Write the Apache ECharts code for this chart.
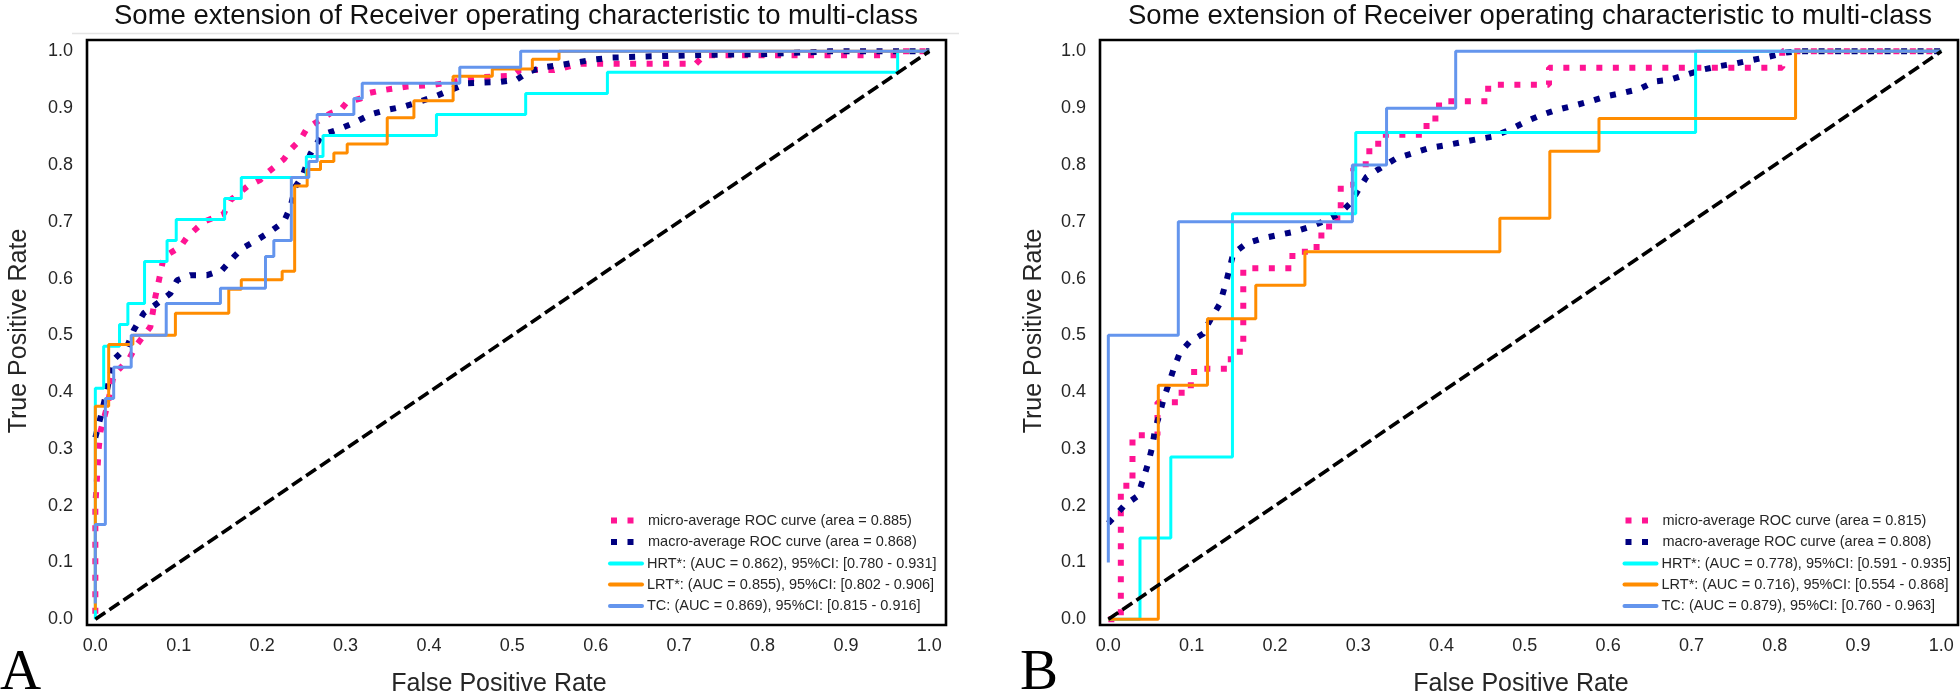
<!DOCTYPE html>
<html><head><meta charset="utf-8">
<script src="https://cdn.jsdelivr.net/npm/echarts@6/dist/echarts.min.js"></script>
<style>html,body{margin:0;padding:0;background:#fff}#c{width:1960px;height:696px}</style>
</head><body><div id="c"></div>
<script>
// ---------- shared ----------
const tickValues = [0, 0.1, 0.2, 0.3, 0.4, 0.5, 0.6, 0.7, 0.8, 0.9, 1.0];
const chartTitle = 'Some extension of Receiver operating characteristic to multi-class';
const xTitle = 'False Positive Rate';
const yTitle = 'True Positive Rate';
const panelLetters = ['A', 'B'];
const chanceFpr = [0, 1];
const chanceTpr = [0, 1];

// ---------- panel A ----------
const A_names = [
  'micro-average ROC curve (area = 0.885)',
  'macro-average ROC curve (area = 0.868)',
  'HRT*: (AUC = 0.862), 95%CI: [0.780 - 0.931]',
  'LRT*: (AUC = 0.855), 95%CI: [0.802 - 0.906]',
  'TC: (AUC = 0.869), 95%CI: [0.815 - 0.916]'
];
const A_micro_fpr = [0, 0, 0.004, 0.006, 0.014, 0.022, 0.041, 0.049, 0.066, 0.072, 0.078, 0.082, 0.102, 0.110, 0.130, 0.154, 0.162, 0.182, 0.198, 0.206, 0.226, 0.234, 0.246, 0.254, 0.270, 0.282, 0.294, 0.302, 0.318, 0.326, 0.346, 0.374, 0.406, 0.426, 0.466, 0.500, 0.509, 0.550, 0.580, 0.720, 0.730, 0.960, 0.960, 1.0];
const A_micro_tpr = [0.010, 0.200, 0.300, 0.330, 0.374, 0.430, 0.460, 0.482, 0.515, 0.568, 0.609, 0.638, 0.656, 0.673, 0.700, 0.714, 0.738, 0.762, 0.774, 0.786, 0.810, 0.827, 0.845, 0.865, 0.880, 0.891, 0.897, 0.911, 0.917, 0.926, 0.932, 0.938, 0.941, 0.946, 0.955, 0.957, 0.967, 0.967, 0.978, 0.978, 0.993, 0.993, 1.0, 1.0];
const A_macro_fpr = [0, 0.007, 0.014, 0.022, 0.038, 0.046, 0.058, 0.074, 0.090, 0.098, 0.114, 0.134, 0.152, 0.166, 0.176, 0.194, 0.210, 0.226, 0.234, 0.240, 0.248, 0.258, 0.272, 0.290, 0.310, 0.330, 0.350, 0.370, 0.390, 0.408, 0.426, 0.446, 0.463, 0.484, 0.505, 0.521, 0.538, 0.558, 0.579, 0.600, 0.620, 0.661, 0.740, 0.800, 0.880, 1.0];
const A_macro_tpr = [0.320, 0.360, 0.404, 0.457, 0.480, 0.509, 0.539, 0.556, 0.574, 0.597, 0.606, 0.606, 0.615, 0.638, 0.653, 0.668, 0.683, 0.700, 0.726, 0.762, 0.779, 0.820, 0.853, 0.862, 0.874, 0.889, 0.897, 0.903, 0.912, 0.921, 0.932, 0.944, 0.945, 0.946, 0.950, 0.965, 0.972, 0.976, 0.981, 0.986, 0.989, 0.991, 0.994, 0.995, 1.0, 1.0];
const A_hrt_fpr = [0, 0, 0.010, 0.010, 0.029, 0.029, 0.039, 0.039, 0.059, 0.059, 0.086, 0.086, 0.097, 0.097, 0.155, 0.155, 0.175, 0.175, 0.253, 0.253, 0.273, 0.273, 0.409, 0.409, 0.516, 0.516, 0.614, 0.614, 0.962, 0.962, 1.0];
const A_hrt_tpr = [0, 0.407, 0.407, 0.481, 0.481, 0.519, 0.519, 0.556, 0.556, 0.630, 0.630, 0.667, 0.667, 0.704, 0.704, 0.741, 0.741, 0.778, 0.778, 0.815, 0.815, 0.852, 0.852, 0.889, 0.889, 0.926, 0.926, 0.963, 0.963, 1.0, 1.0];
const A_lrt_fpr = [0, 0, 0.016, 0.016, 0.045, 0.045, 0.096, 0.096, 0.160, 0.160, 0.175, 0.175, 0.224, 0.224, 0.239, 0.239, 0.254, 0.254, 0.270, 0.270, 0.286, 0.286, 0.302, 0.302, 0.350, 0.350, 0.382, 0.382, 0.429, 0.429, 0.476, 0.476, 0.524, 0.524, 0.556, 0.556, 1.0];
const A_lrt_tpr = [0.016, 0.375, 0.375, 0.484, 0.484, 0.500, 0.500, 0.539, 0.539, 0.581, 0.581, 0.598, 0.598, 0.613, 0.613, 0.763, 0.763, 0.792, 0.792, 0.806, 0.806, 0.821, 0.821, 0.837, 0.837, 0.883, 0.883, 0.913, 0.913, 0.956, 0.956, 0.969, 0.969, 0.986, 0.986, 1.0, 1.0];
const A_tc_fpr = [0, 0, 0.012, 0.012, 0.022, 0.022, 0.043, 0.043, 0.085, 0.085, 0.150, 0.150, 0.204, 0.204, 0.214, 0.214, 0.235, 0.235, 0.256, 0.256, 0.266, 0.266, 0.310, 0.310, 0.320, 0.320, 0.437, 0.437, 0.510, 0.510, 1.0];
const A_tc_tpr = [0.028, 0.167, 0.167, 0.389, 0.389, 0.444, 0.444, 0.500, 0.500, 0.556, 0.556, 0.583, 0.583, 0.639, 0.639, 0.667, 0.667, 0.778, 0.778, 0.806, 0.806, 0.889, 0.889, 0.917, 0.917, 0.944, 0.944, 0.972, 0.972, 1.0, 1.0];

// ---------- panel B ----------
const B_names = [
  'micro-average ROC curve (area = 0.815)',
  'macro-average ROC curve (area = 0.808)',
  'HRT*: (AUC = 0.778), 95%CI: [0.591 - 0.935]',
  'LRT*: (AUC = 0.716), 95%CI: [0.554 - 0.868]',
  'TC: (AUC = 0.879), 95%CI: [0.760 - 0.963]'
];
const B_micro_fpr = [0, 0.015, 0.015, 0.029, 0.029, 0.059, 0.059, 0.088, 0.088, 0.103, 0.103, 0.147, 0.147, 0.162, 0.162, 0.221, 0.221, 0.250, 0.250, 0.265, 0.265, 0.279, 0.279, 0.294, 0.294, 0.309, 0.309, 0.324, 0.324, 0.382, 0.382, 0.397, 0.397, 0.456, 0.456, 0.529, 0.529, 0.809, 0.809, 1.0];
const B_micro_tpr = [0, 0, 0.235, 0.235, 0.324, 0.324, 0.382, 0.382, 0.412, 0.412, 0.441, 0.441, 0.471, 0.471, 0.618, 0.618, 0.647, 0.647, 0.676, 0.676, 0.706, 0.706, 0.765, 0.765, 0.794, 0.794, 0.824, 0.824, 0.853, 0.853, 0.882, 0.882, 0.912, 0.912, 0.941, 0.941, 0.971, 0.971, 1.0, 1.0];
const B_macro_fpr = [0, 0.019, 0.035, 0.043, 0.048, 0.053, 0.056, 0.061, 0.066, 0.078, 0.086, 0.098, 0.114, 0.120, 0.134, 0.142, 0.150, 0.166, 0.186, 0.202, 0.222, 0.242, 0.262, 0.278, 0.290, 0.310, 0.326, 0.346, 0.366, 0.386, 0.410, 0.442, 0.462, 0.482, 0.502, 0.522, 0.538, 0.558, 0.578, 0.598, 0.618, 0.638, 0.656, 0.674, 0.694, 0.714, 0.734, 0.754, 0.774, 0.794, 0.814, 0.830, 1.0];
const B_macro_tpr = [0.169, 0.200, 0.217, 0.252, 0.276, 0.305, 0.335, 0.358, 0.386, 0.439, 0.470, 0.489, 0.503, 0.521, 0.556, 0.597, 0.644, 0.662, 0.671, 0.676, 0.682, 0.691, 0.703, 0.715, 0.732, 0.779, 0.794, 0.812, 0.821, 0.830, 0.836, 0.845, 0.850, 0.862, 0.877, 0.889, 0.897, 0.904, 0.912, 0.921, 0.927, 0.934, 0.947, 0.950, 0.959, 0.968, 0.974, 0.979, 0.985, 0.991, 0.998, 1.0, 1.0];
const B_hrt_fpr = [0, 0.038, 0.038, 0.075, 0.075, 0.149, 0.149, 0.297, 0.297, 0.705, 0.705, 1.0];
const B_hrt_tpr = [0, 0, 0.143, 0.143, 0.286, 0.286, 0.714, 0.714, 0.857, 0.857, 1.0, 1.0];
const B_lrt_fpr = [0, 0.060, 0.060, 0.119, 0.119, 0.177, 0.177, 0.236, 0.236, 0.470, 0.470, 0.530, 0.530, 0.589, 0.589, 0.825, 0.825, 1.0];
const B_lrt_tpr = [0, 0, 0.412, 0.412, 0.529, 0.529, 0.588, 0.588, 0.647, 0.647, 0.706, 0.706, 0.824, 0.824, 0.882, 0.882, 1.0, 1.0];
const B_tc_fpr = [0, 0, 0.084, 0.084, 0.293, 0.293, 0.334, 0.334, 0.417, 0.417, 1.0];
const B_tc_tpr = [0.1, 0.5, 0.5, 0.7, 0.7, 0.8, 0.8, 0.9, 0.9, 1.0, 1.0];

// ---------- styling ----------
const colors = ['#FF1493', '#000080', '#00FFFF', '#FF8C00', '#6495ED'];
const SANS = "'Liberation Sans', Arial, Helvetica, sans-serif";
const SERIF = "'Liberation Serif', 'Times New Roman', serif";
const TXT = '#262626';
const pair = (xs, ys) => xs.map((x, i) => [x, ys[i]]);
const DOT = [6, 10.5];
const legendRowY = [520, 541.5, 563, 584, 605.5];

const panels = [
  { names: A_names, curves: [[A_micro_fpr, A_micro_tpr], [A_macro_fpr, A_macro_tpr], [A_hrt_fpr, A_hrt_tpr], [A_lrt_fpr, A_lrt_tpr], [A_tc_fpr, A_tc_tpr]],
    grid: { left: 87, top: 40, width: 859, height: 585 }, legendLeft: 608, yTitleX: 19, xTitleX: 499, titleX: 516, letterX: 0 },
  { names: B_names, curves: [[B_micro_fpr, B_micro_tpr], [B_macro_fpr, B_macro_tpr], [B_hrt_fpr, B_hrt_tpr], [B_lrt_fpr, B_lrt_tpr], [B_tc_fpr, B_tc_tpr]],
    grid: { left: 1100, top: 40, width: 858, height: 585 }, legendLeft: 1622.5, yTitleX: 1034, xTitleX: 1521, titleX: 1530, letterX: 1020 }
];

const grids = [], xAxes = [], yAxes = [], series = [], legends = [], graphics = [];
panels.forEach((p, k) => {
  grids.push(Object.assign({ show: true, borderColor: '#000', borderWidth: 2.6, backgroundColor: '#fff' }, p.grid));
  const axisCommon = {
    type: 'value', gridIndex: k, min: -0.01, max: 1.02,
    axisLine: { show: false }, axisTick: { show: false }, splitLine: { show: false },
    axisLabel: { customValues: tickValues, formatter: v => v.toFixed(1), fontSize: 18, color: TXT, fontFamily: SANS }
  };
  xAxes.push(Object.assign({}, axisCommon, { axisLabel: Object.assign({}, axisCommon.axisLabel, { margin: 12 }) }));
  yAxes.push(Object.assign({}, axisCommon, { axisLabel: Object.assign({}, axisCommon.axisLabel, { margin: 14 }) }));
  p.curves.forEach((c, i) => {
    const dotted = i < 2;
    series.push({
      type: 'line', name: p.names[i], xAxisIndex: k, yAxisIndex: k,
      data: pair(c[0], c[1]), symbol: 'none', showSymbol: false, silent: true,
      itemStyle: { color: colors[i] },
      lineStyle: { color: colors[i], width: dotted ? 6 : 3, type: dotted ? DOT : 'solid', cap: 'butt' },
      z: 2 + i
    });
    legends.push({
      orient: 'vertical', left: p.legendLeft, top: legendRowY[i] - 7, itemWidth: 32, itemHeight: 14,
      selectedMode: false, padding: 0,
      textStyle: { fontSize: 14.5, color: TXT, fontFamily: SANS },
      data: [{ name: p.names[i],
               itemStyle: { opacity: 0, color: 'rgba(0,0,0,0)', borderColor: 'rgba(0,0,0,0)', borderWidth: 0 },
               lineStyle: { width: dotted ? 6 : 4, type: dotted ? DOT : 'solid', cap: dotted ? 'butt' : 'round' } }]
    });
  });
  series.push({
    type: 'line', name: 'chance' + k, xAxisIndex: k, yAxisIndex: k,
    data: pair(chanceFpr, chanceTpr), symbol: 'none', silent: true,
    lineStyle: { color: '#000', width: 3.6, type: [12, 5] }, z: 10
  });
  graphics.push(
    { type: 'text', x: p.titleX, y: 16, style: { text: chartTitle, font: '27.5px ' + SANS, fill: '#111', align: 'center', verticalAlign: 'middle' } },
    { type: 'text', x: p.yTitleX, y: 331, rotation: Math.PI / 2, style: { text: yTitle, font: '25px ' + SANS, fill: TXT, align: 'center', verticalAlign: 'middle' } },
    { type: 'text', x: p.xTitleX, y: 684, style: { text: xTitle, font: '25px ' + SANS, fill: TXT, align: 'center', verticalAlign: 'middle' } },
    { type: 'text', x: p.letterX, y: 674, style: { text: panelLetters[k], font: '57px ' + SERIF, fill: '#000', align: 'left', verticalAlign: 'middle' } }
  );
});
// faint rule under the left panel's title
graphics.push({ type: 'line', shape: { x1: 72, y1: 33.5, x2: 959, y2: 33.5 }, style: { stroke: '#e4e4e4', lineWidth: 1.5 }, silent: true });

const chart = echarts.init(document.getElementById('c'), null, { renderer: 'canvas' });
chart.setOption({
  animation: false,
  backgroundColor: '#fff',
  grid: grids, xAxis: xAxes, yAxis: yAxes, series: series, legend: legends,
  graphic: graphics
});
</script></body></html>
